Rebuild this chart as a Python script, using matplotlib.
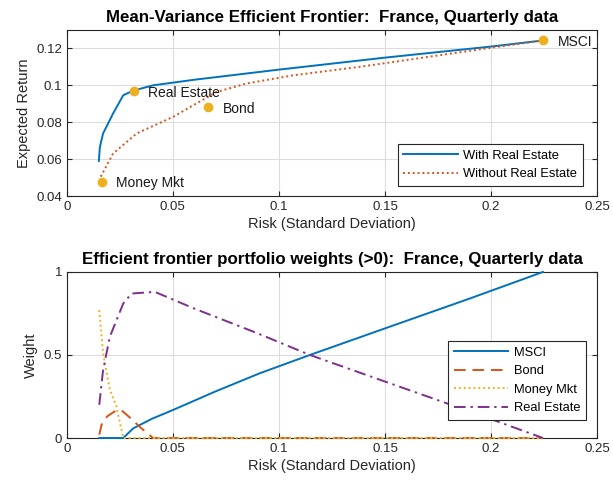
import matplotlib
matplotlib.use("Agg")
import matplotlib.pyplot as plt

plt.rcParams['font.family'] = ['Liberation Sans', 'DejaVu Sans']

BLUE, ORANGE, YELLOW, PURPLE = '#0072BD', '#D95319', '#EDB120', '#7E2F8E'

# asset points (risk, return)
assets = ['MSCI', 'Real Estate', 'Bond', 'Money Mkt']
asset_risk = [0.2245, 0.0316, 0.0667, 0.0164]
asset_ret = [0.1243, 0.0968, 0.0880, 0.0477]

# frontier with real estate
fr_risk = [0.0151, 0.0156, 0.0171, 0.0218, 0.0266, 0.0310, 0.0407, 0.060, 0.100, 0.150, 0.200, 0.2245]
fr_ret = [0.0590, 0.0666, 0.0739, 0.0847, 0.0946, 0.0970, 0.1000, 0.1030, 0.1085, 0.1150, 0.1210, 0.1243]

# frontier without real estate
nr_risk = [0.0160, 0.0218, 0.0329, 0.0501, 0.0706, 0.0848, 0.1067, 0.1380, 0.1500, 0.2003, 0.2245]
nr_ret = [0.0505, 0.0630, 0.0739, 0.0829, 0.0964, 0.1010, 0.1054, 0.1100, 0.1120, 0.1204, 0.1243]

# portfolio weights along the frontier
w_msci_x = [0.0153, 0.0266, 0.0313, 0.040, 0.0501, 0.070, 0.091, 0.1146, 0.150, 0.190, 0.2245]
w_msci = [0.0, 0.0, 0.058, 0.115, 0.169, 0.280, 0.390, 0.500, 0.660, 0.840, 1.0]
w_bond_x = [0.0153, 0.0164, 0.019, 0.0225, 0.0255, 0.030, 0.035, 0.0407, 0.2245]
w_bond = [0.02, 0.08, 0.13, 0.16, 0.17, 0.12, 0.06, 0.0, 0.0]
w_mm_x = [0.0153, 0.0171, 0.0203, 0.0234, 0.0266, 0.2245]
w_mm = [0.77, 0.51, 0.29, 0.19, 0.0, 0.0]
w_re_x = [0.0153, 0.0171, 0.0203, 0.0266, 0.0305, 0.0415, 0.060, 0.090, 0.1146, 0.150, 0.190, 0.2245]
w_re = [0.20, 0.41, 0.61, 0.81, 0.87, 0.88, 0.78, 0.63, 0.50, 0.34, 0.16, 0.0]

fig = plt.figure(figsize=(6.13, 4.87), dpi=100)
ax1 = fig.add_axes([0.109, 0.5975, 0.865, 0.341])
ax2 = fig.add_axes([0.109, 0.1006, 0.865, 0.341])

LEG = dict(fontsize=9.3, fancybox=False, edgecolor='#262626', framealpha=1,
           handlelength=4.2, handletextpad=0.45, borderaxespad=0, labelspacing=0.5,
           borderpad=0.45)


def style(ax):
    ax.grid(True, color='#dcdcdc', lw=0.8)
    ax.set_axisbelow(True)
    ax.tick_params(direction='in', top=True, right=True, labelsize=9.5,
                   length=3.5, color='#262626', labelcolor='#262626')
    for s in ax.spines.values():
        s.set_color('#262626')
        s.set_linewidth(0.8)
    ax.set_xlim(0, 0.25)
    ax.set_xticks([0, 0.05, 0.1, 0.15, 0.2, 0.25])
    ax.set_xticklabels(['0', '0.05', '0.1', '0.15', '0.2', '0.25'])
    ax.set_xlabel('Risk (Standard Deviation)', fontsize=10.5, color='#262626', labelpad=3)


style(ax1)
ax1.plot(fr_risk, fr_ret, color=BLUE, lw=1.4, label='With Real Estate')
ax1.plot(nr_risk, nr_ret, color=ORANGE, lw=1.4, ls=(0, (1, 1.5)), label='Without Real Estate')
ax1.plot(asset_risk, asset_ret, 'o', color=YELLOW, ms=6, zorder=5)
for name, x, y in zip(assets, asset_risk, asset_ret):
    ax1.annotate(name, (x, y), xytext=(10.5, -1), textcoords='offset points',
                 ha='left', va='center', fontsize=10, color='#1a1a1a')
ax1.set_ylim(0.04, 0.13)
ax1.set_yticks([0.04, 0.06, 0.08, 0.1, 0.12])
ax1.set_yticklabels(['0.04', '0.06', '0.08', '0.1', '0.12'])
ax1.set_ylabel('Expected Return', fontsize=10.5, color='#262626')
ax1.set_title('Mean-Variance Efficient Frontier:  France, Quarterly data',
              fontsize=12.2, fontweight='bold', pad=6)
leg = ax1.legend(loc='lower right', bbox_to_anchor=(0.9736, 0.06), **LEG)
leg.get_frame().set_linewidth(0.8)

style(ax2)
zero_kw = dict(lw=1.4, clip_on=False, zorder=3)
ax2.plot(w_msci_x, w_msci, color=BLUE, label='MSCI', **zero_kw)
ax2.plot(w_bond_x, w_bond, color=ORANGE, ls=(0, (6, 3.5)), label='Bond', **zero_kw)
ax2.plot(w_mm_x, w_mm, color=YELLOW, ls=(0, (1, 1.5)), label='Money Mkt', **zero_kw)
ax2.plot(w_re_x, w_re, color=PURPLE, ls=(0, (6, 2.5, 1.2, 2.5)), label='Real Estate', **zero_kw)
ax2.set_ylim(0, 1)
ax2.set_yticks([0, 0.5, 1])
ax2.set_yticklabels(['0', '0.5', '1'])
ax2.set_ylabel('Weight', fontsize=10.5, color='#262626')
ax2.set_title('Efficient frontier portfolio weights (>0):  France, Quarterly data',
              fontsize=12.2, fontweight='bold', pad=6)
leg2 = ax2.legend(loc='lower right', bbox_to_anchor=(0.979, 0.108), **LEG)
leg2.get_frame().set_linewidth(0.8)

fig.savefig('out.png', dpi=100)
